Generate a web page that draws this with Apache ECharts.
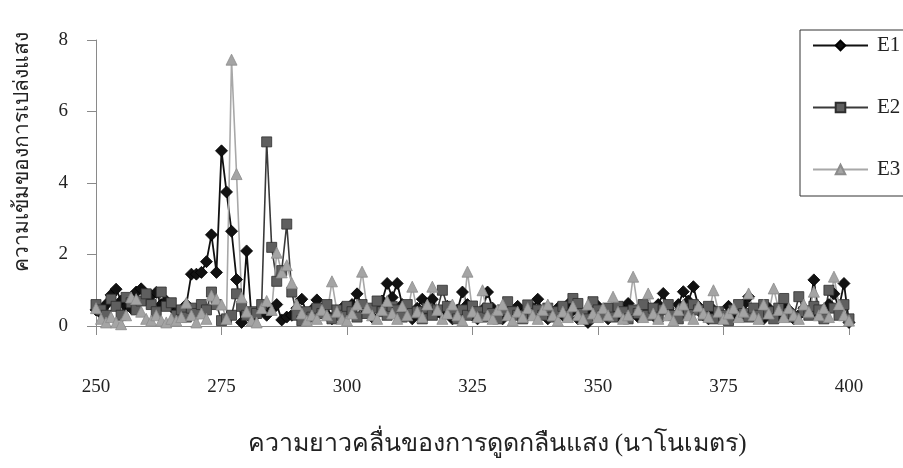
<!DOCTYPE html>
<html>
<head>
<meta charset="utf-8">
<script src="https://cdn.jsdelivr.net/npm/echarts@6/dist/echarts.min.js"></script>
<style>
  html, body { margin: 0; padding: 0; background: #fff; }
  #chart { width: 903px; height: 468px; }
</style>
</head>
<body>
<div id="chart"></div>
<script>
// Wavelength grid (nm), one reading per nanometre
const wavelengths = [
  250,251,252,253,254,255,256,257,258,259,
  260,261,262,263,264,265,266,267,268,269,
  270,271,272,273,274,275,276,277,278,279,
  280,281,282,283,284,285,286,287,288,289,
  290,291,292,293,294,295,296,297,298,299,
  300,301,302,303,304,305,306,307,308,309,
  310,311,312,313,314,315,316,317,318,319,
  320,321,322,323,324,325,326,327,328,329,
  330,331,332,333,334,335,336,337,338,339,
  340,341,342,343,344,345,346,347,348,349,
  350,351,352,353,354,355,356,357,358,359,
  360,361,362,363,364,365,366,367,368,369,
  370,371,372,373,374,375,376,377,378,379,
  380,381,382,383,384,385,386,387,388,389,
  390,391,392,393,394,395,396,397,398,399,
  400
];

// Emission intensity for each sample
const e1 = [
  0.45,0.35,0.60,0.87,1.03,0.70,0.55,0.50,0.95,1.04,
  0.75,0.85,0.94,0.60,0.70,0.55,0.40,0.35,0.60,1.45,
  1.45,1.50,1.80,2.55,1.50,4.90,3.75,2.65,1.30,0.10,
  2.10,0.20,0.35,0.50,0.30,0.45,0.60,0.17,0.25,0.30,
  0.50,0.75,0.35,0.45,0.73,0.40,0.30,0.20,0.35,0.50,
  0.30,0.60,0.90,0.55,0.40,0.25,0.50,0.70,1.19,0.80,
  1.19,0.60,0.35,0.20,0.50,0.75,0.45,0.75,0.40,0.30,
  0.55,0.20,0.45,0.95,0.60,0.30,0.20,0.45,0.95,0.50,
  0.30,0.20,0.40,0.25,0.55,0.35,0.30,0.50,0.75,0.40,
  0.20,0.35,0.50,0.30,0.60,0.45,0.20,0.35,0.10,0.40,
  0.55,0.30,0.20,0.45,0.30,0.50,0.63,0.40,0.25,0.35,
  0.50,0.30,0.60,0.91,0.50,0.30,0.60,0.96,0.70,1.10,
  0.55,0.30,0.20,0.45,0.35,0.20,0.55,0.30,0.45,0.60,
  0.82,0.40,0.30,0.20,0.50,0.35,0.25,0.60,0.45,0.20,
  0.30,0.50,0.40,1.29,0.30,0.45,0.60,0.90,0.50,1.19,
  0.10
];

const e2 = [
  0.60,0.45,0.30,0.75,0.55,0.30,0.80,0.65,0.45,0.70,
  0.90,0.60,0.40,0.95,0.55,0.65,0.30,0.45,0.25,0.50,
  0.35,0.60,0.45,0.95,0.60,0.15,0.20,0.30,0.90,0.55,
  0.30,0.40,0.35,0.60,5.15,2.20,1.25,1.55,2.85,0.95,
  0.30,0.15,0.40,0.25,0.50,0.35,0.60,0.20,0.45,0.30,
  0.55,0.40,0.25,0.60,0.35,0.50,0.70,0.40,0.30,0.55,
  0.45,0.25,0.60,0.35,0.40,0.20,0.50,0.30,0.45,1.00,
  0.55,0.35,0.20,0.45,0.30,0.56,0.40,0.25,0.50,0.35,
  0.20,0.45,0.68,0.40,0.30,0.20,0.59,0.35,0.45,0.30,
  0.50,0.25,0.40,0.55,0.30,0.77,0.63,0.35,0.20,0.68,
  0.45,0.30,0.50,0.25,0.55,0.40,0.20,0.45,0.35,0.60,
  0.30,0.50,0.25,0.45,0.60,0.30,0.20,0.50,0.35,0.60,
  0.45,0.30,0.55,0.20,0.40,0.30,0.15,0.45,0.60,0.35,
  0.25,0.50,0.30,0.60,0.40,0.20,0.50,0.77,0.35,0.25,
  0.82,0.40,0.30,0.55,0.45,0.20,1.00,0.50,0.30,0.60,
  0.20
];

const e3 = [
  0.50,0.20,0.10,0.25,0.10,0.05,0.30,0.80,0.75,0.40,
  0.20,0.15,0.30,0.15,0.10,0.20,0.15,0.25,0.65,0.30,
  0.10,0.35,0.20,0.85,0.75,0.60,0.20,7.45,4.25,0.80,
  0.40,0.15,0.10,0.50,0.70,0.45,2.05,1.50,1.70,1.20,
  0.60,0.35,0.15,0.30,0.20,0.45,0.30,1.25,0.40,0.20,
  0.15,0.35,0.60,1.52,0.50,0.30,0.20,0.45,0.70,0.35,
  0.20,0.55,0.30,1.10,0.40,0.25,0.60,1.10,0.45,0.20,
  0.35,0.60,0.30,0.15,1.52,0.40,0.25,1.00,0.30,0.20,
  0.45,0.60,0.30,0.15,0.40,0.25,0.50,0.30,0.20,0.45,
  0.60,0.30,0.15,0.40,0.25,0.55,0.30,0.20,0.60,0.35,
  0.25,0.50,0.30,0.82,0.40,0.20,0.30,1.38,0.45,0.25,
  0.91,0.35,0.20,0.50,0.30,0.15,0.45,0.60,0.30,0.20,
  0.55,0.35,0.25,1.00,0.40,0.20,0.35,0.50,0.25,0.40,
  0.91,0.30,0.20,0.60,0.35,1.05,0.45,0.25,0.50,0.30,
  0.20,0.60,0.40,0.96,0.30,0.50,0.25,1.38,0.60,0.30,
  0.15
];

const seriesNames = ['E1', 'E2', 'E3'];
const xTitle = 'ความยาวคลื่นของการดูดกลืนแสง (นาโนเมตร)';
const yTitle = 'ความเข้มของการเปล่งแสง';

const serifFont = "'Liberation Serif', 'DejaVu Serif', 'Noto Sans', serif";

function pairs(values) {
  return wavelengths.map((w, i) => [w, values[i]]);
}

const styles = [
  { symbol: 'diamond',  size: 12, fill: '#111111', border: '#000000', line: '#111111', width: 1.8 },
  { symbol: 'rect',     size: 10, fill: '#5f5f5f', border: '#2e2e2e', line: '#3a3a3a', width: 1.6 },
  { symbol: 'triangle', size: 11, fill: '#a4a4a4', border: '#8c8c8c', line: '#a8a8a8', width: 1.6 }
];

const chart = echarts.init(document.getElementById('chart'), null, { renderer: 'canvas' });

chart.setOption({
  animation: false,
  backgroundColor: '#ffffff',
  grid: { left: 96, right: 54, top: 40, bottom: 142, containLabel: false },
  xAxis: {
    type: 'value',
    min: 250, max: 400, interval: 25,
    axisLine: { show: true, lineStyle: { color: '#8a8a8a', width: 1 } },
    axisTick: { show: true, length: 9, lineStyle: { color: '#8a8a8a' } },
    axisLabel: { margin: 52, color: '#222', fontFamily: serifFont, fontSize: 19 },
    splitLine: { show: false }
  },
  yAxis: {
    type: 'value',
    min: 0, max: 8, interval: 2,
    axisLine: { show: true, lineStyle: { color: '#8a8a8a', width: 1 } },
    axisTick: { show: true, length: 9, lineStyle: { color: '#8a8a8a' } },
    axisLabel: { margin: 28, color: '#222', fontFamily: serifFont, fontSize: 19 },
    splitLine: { show: false }
  },
  legend: {
    orient: 'vertical',
    left: 800, top: 30,
    data: seriesNames,
    itemWidth: 55, itemHeight: 12, itemGap: 41,
    padding: [5, 12, 16, 12],
    borderColor: '#333', borderWidth: 1,
    backgroundColor: '#fff',
    textStyle: { fontFamily: serifFont, fontSize: 21, color: '#222', lineHeight: 20, padding: [0, 0, 0, 4] }
  },
  graphic: [
    {
      type: 'text', x: 497, y: 432,
      style: { text: xTitle, fontFamily: serifFont, fontSize: 25, fill: '#222', align: 'center', verticalAlign: 'top' }
    },
    {
      type: 'text', x: 12, y: 152, rotation: Math.PI / 2,
      style: { text: yTitle, fontFamily: serifFont, fontSize: 21, fill: '#222', align: 'center', verticalAlign: 'top' }
    }
  ],
  series: [e1, e2, e3].map((vals, k) => ({
    name: seriesNames[k],
    type: 'line',
    data: pairs(vals),
    symbol: styles[k].symbol,
    symbolSize: styles[k].size,
    showSymbol: true,
    showAllSymbol: true,
    itemStyle: { color: styles[k].fill, borderColor: styles[k].border, borderWidth: 0.8 },
    lineStyle: { color: styles[k].line, width: styles[k].width },
    emphasis: { disabled: true }
  }))
});
</script>
</body>
</html>
